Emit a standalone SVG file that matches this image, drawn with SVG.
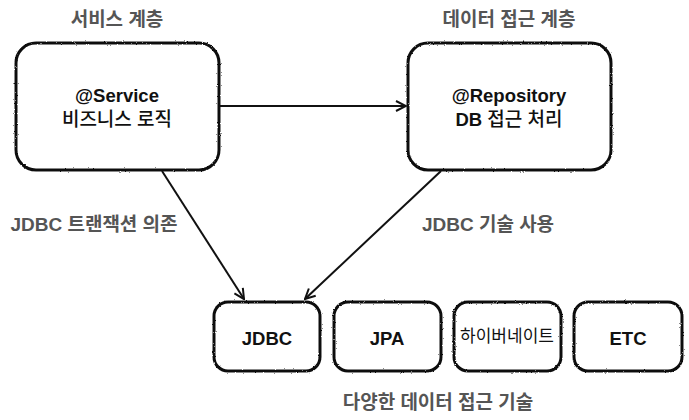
<svg xmlns="http://www.w3.org/2000/svg" width="689" height="420" viewBox="0 0 689 420">
<style>
.box{fill:#fff;stroke:#111;stroke-width:3;filter:url(#rough)}
.t{font-family:"Liberation Sans","Noto Sans CJK KR",sans-serif;font-size:18.5px;fill:#111;text-anchor:middle;font-weight:bold}
.k{font-size:19px;font-weight:500}
.lbl{font-family:"Liberation Sans","Noto Sans CJK KR",sans-serif;font-size:19px;fill:#555;font-weight:bold;text-anchor:middle}
.c{stroke:#111;stroke-width:2;fill:none}
</style>
<defs>
<filter id="rough" x="-5%" y="-5%" width="110%" height="110%">
<feTurbulence type="fractalNoise" baseFrequency="0.9" numOctaves="2" seed="3"/>
<feDisplacementMap in="SourceGraphic" scale="2.2" xChannelSelector="R" yChannelSelector="G"/>
</filter>
<marker id="ah" viewBox="0 0 12 12" refX="11" refY="6" markerWidth="12" markerHeight="12" markerUnits="userSpaceOnUse" orient="auto">
<path d="M1,1 L11,6 L1,11" fill="none" stroke="#111" stroke-width="2"/>
</marker>
</defs>
<rect width="689" height="420" fill="#fff"/>
<text class="lbl" x="117" y="26">서비스 계층</text>
<text class="lbl" x="509" y="26">데이터 접근 계층</text>
<g id="service">
<rect class="box" x="16" y="43" width="203" height="127" rx="20"/>
<text class="t" x="117" y="102">@Service</text>
<text class="t k" x="117" y="126">비즈니스 로직</text>
</g>
<g id="repository">
<rect class="box" x="408" y="43" width="203" height="127" rx="20"/>
<text class="t" x="509" y="102">@Repository</text>
<text class="t" x="509" y="126">DB <tspan class="k">접근 처리</tspan></text>
</g>
<g id="jdbc">
<rect class="box" x="214" y="302" width="106" height="69" rx="14"/>
<text class="t" x="267" y="345">JDBC</text>
</g>
<g id="jpa">
<rect class="box" x="334" y="302" width="107" height="69" rx="14"/>
<text class="t" x="387" y="345">JPA</text>
</g>
<g id="hibernate">
<rect class="box" x="454" y="302" width="107" height="69" rx="14"/>
<text class="t" x="507" y="342" style="font-weight:normal;font-size:17px">하이버네이트</text>
</g>
<g id="etc">
<rect class="box" x="574" y="302" width="108" height="69" rx="14"/>
<text class="t" x="628" y="345">ETC</text>
</g>
<g id="connectors">
<line class="c" x1="220" y1="106" x2="406" y2="106" marker-end="url(#ah)"/>
<line class="c" x1="162" y1="171" x2="244" y2="299" marker-end="url(#ah)"/>
<line class="c" x1="441" y1="171" x2="305" y2="299" marker-end="url(#ah)"/>
</g>
<text class="lbl" x="94" y="231">JDBC 트랜잭션 의존</text>
<text class="lbl" x="488" y="231">JDBC 기술 사용</text>
<text class="lbl" x="438" y="409">다양한 데이터 접근 기술</text>
</svg>
